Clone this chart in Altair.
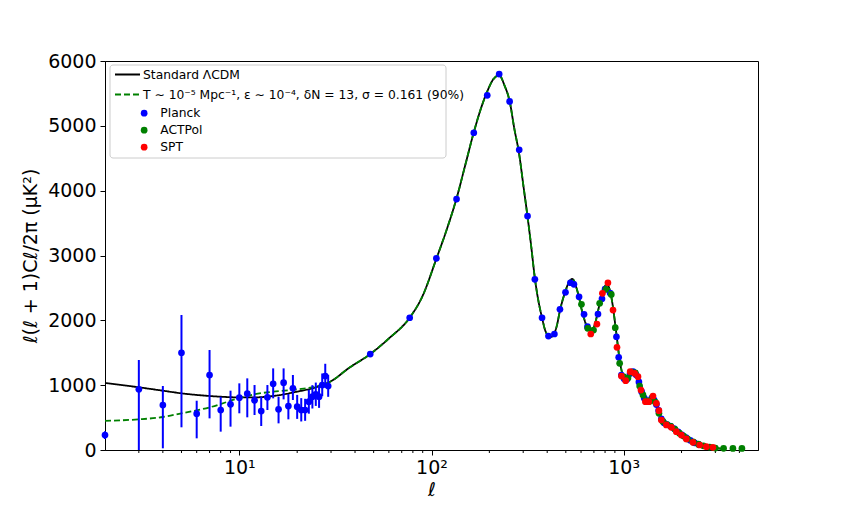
import altair as alt
import pandas as pd

# ---------------- data ----------------
M1 = "Standard ΛCDM"
M2 = "T ∼ 10⁻⁵ Mpc⁻¹, ε ∼ 10⁻⁴, δN = 13, σ = 0.161 (90%)"

# theory curves, low multipoles (differ)
ell_model_low = [2, 3, 4, 5, 7, 10, 12, 15, 20, 25, 30]
lcdm_low = [1035, 967, 915, 874, 833, 812, 812, 833, 900, 967, 1060]
alt_low = [450, 473, 509, 566, 658, 800, 860, 900, 935, 980, 1060]

# theory curves, higher multipoles (the two coincide)
ell_model_high = [37, 48, 60, 77, 90, 106, 120, 135, 150, 166, 180, 195, 210, 225, 240, 255,
                  270, 286, 300, 316, 330, 345, 360, 376, 390, 406, 420, 436, 450, 466, 482,
                  498, 513, 528, 540, 551, 568, 586, 604, 622, 640, 660, 680, 700, 720, 740,
                  760, 780, 800, 822, 840, 860, 880, 900, 920, 942, 960, 980, 1000, 1024, 1050,
                  1075, 1100, 1130, 1160, 1190, 1220, 1250, 1280, 1310, 1340, 1380, 1420, 1460,
                  1500, 1540, 1580, 1630, 1680, 1750, 1820, 1900, 2000, 2120, 2250, 2400, 2550,
                  2700, 2900, 3100, 3300]
cl_model_high = [1260, 1480, 1720, 2040, 2380, 2950, 3400, 3880, 4400, 4900, 5250, 5530, 5720,
                 5780, 5620, 5380, 4950, 4560, 4100, 3600, 3150, 2650, 2300, 2040, 1850, 1760,
                 1745, 1800, 1930, 2150, 2320, 2450, 2560, 2620, 2640, 2610, 2500, 2350, 2170,
                 2030, 1920, 1860, 1850, 1900, 2020, 2180, 2330, 2450, 2530, 2550, 2500, 2380,
                 2200, 1980, 1750, 1500, 1330, 1200, 1120, 1080, 1100, 1160, 1200, 1210, 1170,
                 1090, 980, 880, 800, 760, 750, 780, 820, 760, 650, 560, 480, 420, 390, 370,
                 340, 290, 240, 175, 130, 95, 70, 52, 38, 26, 18]

# Planck low-ell points with error bars
planck_low_ell = list(range(2, 30))
planck_low_cl = [231, 936, 694, 1500, 560, 1157, 617, 704, 807, 868, 766, 601, 812, 1022,
                 627, 1038, 678, 951, 668, 617, 617, 745, 822, 858, 822, 1002, 1141, 987]
planck_low_lo = [170, 0, 26, 350, 180, 488, 283, 360, 566, 504, 540, 370, 617, 797,
                 411, 781, 473, 771, 480, 440, 450, 560, 640, 680, 650, 830, 960, 820]
planck_low_hi = [290, 1388, 987, 2082, 760, 1542, 822, 915, 1028, 1105, 1002, 822, 1002, 1259,
                 822, 1259, 864, 1157, 850, 800, 790, 930, 1000, 1040, 1000, 1180, 1330, 1160]

# Planck high-ell points
planck_high_ell = [48, 77, 106, 135, 166, 195, 225, 255, 286, 316, 345, 376, 406, 436, 466, 498,
                   528, 551, 586, 622, 648, 735, 771, 800, 850, 917, 942, 973, 1005, 1040, 1080,
                   1120, 1160, 1200, 1240, 1280, 1320, 1360, 1400, 1440, 1480, 1520, 1570, 1620,
                   1680, 1750, 1830, 1920, 2010, 2110, 2220, 2340, 2460]
planck_high_cl = [1480, 2040, 2956, 3870, 4893, 5470, 5798, 5377, 4631, 3608, 2632, 2040, 1758,
                  1789, 2170, 2432, 2580, 2555, 2364, 2092, 1902, 2097, 2333, 2480, 2420, 1747,
                  1429, 1157, 1100, 1090, 1180, 1210, 1160, 1050, 900, 800, 750, 760, 800, 770,
                  700, 610, 480, 420, 390, 370, 330, 280, 235, 190, 150, 110, 85]

# ACTPol points
act_ell = [603, 650, 697, 750, 808, 862, 904, 953, 1003, 1053, 1100, 1150, 1211, 1260, 1310,
           1360, 1410, 1460, 1526, 1600, 1680, 1760, 1850, 1950, 2050, 2150, 2300, 2450, 2600,
           2800, 3000, 3311, 3702, 4123]
act_cl = [2247, 1876, 1850, 2262, 2478, 2400, 1886, 1337, 1130, 1110, 1200, 1190, 987, 850, 760,
          750, 800, 740, 566, 440, 390, 365, 320, 260, 215, 170, 125, 90, 65, 45, 30, 26, 24, 24]

# SPT points
spt_ell = [674, 726, 775, 828, 880, 923, 973, 1024, 1081, 1141, 1187, 1230, 1297, 1350, 1421,
           1480, 1526, 1570, 1667, 1770, 1879, 1995, 2118, 2293, 2485, 2692, 2913]
spt_cl = [1789, 1943, 2416, 2580, 2159, 1584, 1141, 1069, 1208, 1182, 1131, 925, 745, 745, 833,
          720, 606, 463, 386, 350, 282, 231, 170, 118, 77, 51, 41]

major_ticks = [10, 100, 1000]
minor_ticks = [3, 4, 5, 6, 7, 8, 9, 20, 30, 40, 50, 60, 70, 80, 90,
               200, 300, 400, 500, 600, 700, 800, 900, 2000, 3000, 4000]
y_ticks = [0, 1000, 2000, 3000, 4000, 5000, 6000]

# ---------------- tables ----------------
lines_df = pd.concat([
    pd.DataFrame({"ell": ell_model_low + ell_model_high, "cl": lcdm_low + cl_model_high, "model": M1}),
    pd.DataFrame({"ell": ell_model_low + ell_model_high, "cl": alt_low + cl_model_high, "model": M2}),
])
err_df = pd.DataFrame({"ell": planck_low_ell, "lo": planck_low_lo, "hi": planck_low_hi})
pts_df = pd.concat([
    pd.DataFrame({"ell": planck_low_ell + planck_high_ell, "cl": planck_low_cl + planck_high_cl, "dataset": "Planck"}),
    pd.DataFrame({"ell": act_ell, "cl": act_cl, "dataset": "ACTPol"}),
    pd.DataFrame({"ell": spt_ell, "cl": spt_cl, "dataset": "SPT"}),
], ignore_index=True)
minor_df = pd.DataFrame({"ell": minor_ticks})

W, H = 653, 389
FONT = "DejaVu Sans"

xscale = alt.Scale(type="log", domain=[2, 5000], nice=False)
yscale = alt.Scale(domain=[0, 6000], nice=False)
xaxis = alt.Axis(values=major_ticks,
                 labelExpr="datum.value == 10 ? '10¹' : datum.value == 100 ? '10²' : '10³'",
                 title="ℓ", titleFontStyle="italic", titleFontWeight="normal", titleFontSize=19,
                 labelFontSize=19, tickSize=5, labelPadding=3, titlePadding=3, grid=False)
yaxis = alt.Axis(values=y_ticks, format="d", title="ℓ(ℓ + 1)Cℓ/2π (μK²)", titleFontWeight="normal",
                 titleFontSize=19, labelFontSize=19, tickSize=5, labelPadding=4, titlePadding=7,
                 grid=False)

def X():
    return alt.X("ell:Q", scale=xscale, axis=xaxis)

legend_box = alt.Chart(pd.DataFrame({"a": [0]})).mark_rect(
    fill="white", stroke="#cccccc", strokeWidth=1, cornerRadius=3
).encode(x=alt.value(5), x2=alt.value(341), y=alt.value(4), y2=alt.value(97))

line_legend = alt.Legend(title=None, orient="none", legendX=9, legendY=0, symbolType="stroke",
                         symbolSize=625, symbolStrokeWidth=1.8, labelOffset=2, labelFontSize=12.3,
                         labelFont=FONT, labelLimit=500, rowPadding=-3, padding=0)
lines = alt.Chart(lines_df).mark_line(strokeWidth=1.8, interpolate="monotone").encode(
    x=X(),
    y=alt.Y("cl:Q", scale=yscale, axis=yaxis),
    stroke=alt.Stroke("model:N", scale=alt.Scale(domain=[M1, M2], range=["black", "#008000"]),
                      legend=line_legend),
    strokeDash=alt.StrokeDash("model:N", scale=alt.Scale(domain=[M1, M2], range=[[1, 0], [6, 3]]),
                              legend=line_legend),
)

minor = alt.Chart(minor_df).mark_rule(color="black", strokeWidth=1).encode(
    x=X(), y=alt.value(H), y2=alt.value(H + 3)
)

errbars = alt.Chart(err_df).mark_rule(color="#0000ff", strokeWidth=2).encode(
    x=X(), y=alt.Y("lo:Q", scale=yscale, axis=yaxis), y2="hi:Q"
)

pts_legend = alt.Legend(title=None, orient="none", legendX=33, legendY=46, symbolType="circle",
                        symbolSize=45, labelOffset=10, labelFontSize=12.3, labelFont=FONT,
                        labelLimit=300, rowPadding=4, padding=0, symbolStrokeWidth=0)
points = alt.Chart(pts_df).mark_circle(size=45, opacity=1).encode(
    x=X(),
    y=alt.Y("cl:Q", scale=yscale, axis=yaxis),
    fill=alt.Fill("dataset:N",
                  scale=alt.Scale(domain=["Planck", "ACTPol", "SPT"], range=["#0000ff", "#008000", "#ff0000"]),
                  legend=pts_legend),
)

chart = alt.layer(legend_box, lines, minor, errbars, points).properties(
    width=W, height=H, autosize="none",
    padding={"left": 97, "top": 53, "right": 77, "bottom": 52},
).configure(font=FONT).configure_view(stroke="black", strokeWidth=1).configure_axis(
    domainColor="black", tickColor="black", labelColor="black", titleColor="black",
    labelFont=FONT, titleFont=FONT
).configure_legend(labelColor="black")

chart.save("out.html", embed_options={"renderer": "svg", "actions": False})
